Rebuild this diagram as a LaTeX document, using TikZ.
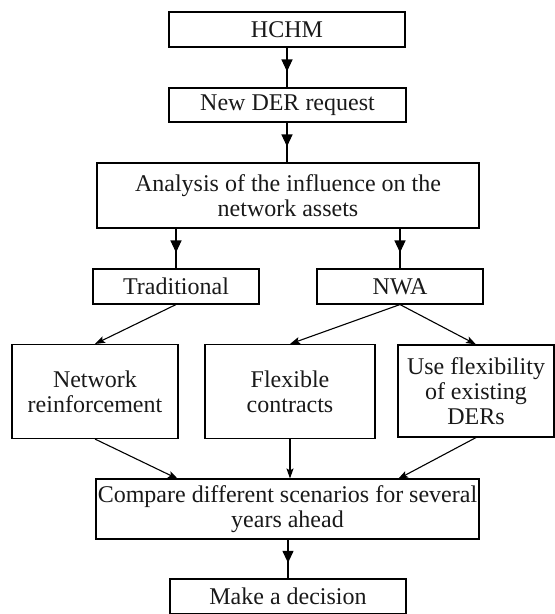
\documentclass[tikz,border=0pt]{standalone}
\usepackage{fontspec}
\setmainfont{Liberation Serif}
\usetikzlibrary{arrows.meta,decorations.markings}
\begin{document}
\begin{tikzpicture}[x=1pt,y=-1pt,
  box/.style={draw, line width=1.1pt, inner sep=0pt, align=center, text=black!90,
    font=\fontsize{24}{25}\selectfont},
  midarrow/.style={line width=1.1pt, postaction={decorate},
    decoration={markings, mark=at position 0.6 with {\arrow{Triangle[length=12pt,width=11pt]}}}},
  diag/.style={line width=1.1pt, -{Stealth[length=10pt,width=7pt,inset=2pt]}}]
\useasboundingbox (0,0) rectangle (555,614);
\node[box, minimum width=236pt, minimum height=35pt] (hchm) at (287,29.5) {HCHM};
\node[box, minimum width=237pt, minimum height=34pt] (der) at (287.5,105) {New DER request};
\node[box, minimum width=382pt, minimum height=65pt] (ana) at (288,195.5) {Analysis of the influence on the\\network assets};
\node[box, minimum width=166pt, minimum height=35pt] (trad) at (176,286.5) {Traditional};
\node[box, minimum width=166pt, minimum height=35pt] (nwa) at (400,286.5) {NWA};
\node[box, minimum width=166pt, minimum height=94pt] (net) at (95,391.5) {Network\\reinforcement};
\node[box, minimum width=170pt, minimum height=94pt] (flex) at (290,391.5) {Flexible\\contracts};
\node[box, minimum width=156pt, minimum height=92pt] (use) at (476,391) {Use flexibility\\of existing\\DERs};
\node[box, minimum width=383pt, minimum height=60pt] (cmp) at (287.5,509) {Compare different scenarios for several\\years ahead};
\node[box, minimum width=236pt, minimum height=35pt] (dec) at (288,596.5) {Make a decision};

\coordinate (cl) at (178,479);
\coordinate (cr) at (398,479);

\draw[midarrow] (hchm.south) -- (hchm.south |- der.north);
\draw[midarrow] (hchm.south |- der.south) -- (hchm.south |- ana.north);
\draw[midarrow] (trad.north |- ana.south) -- (trad.north);
\draw[midarrow] (nwa.north |- ana.south) -- (nwa.north);
\draw[diag] (trad.south) -- (net.north);
\draw[diag] (nwa.south) -- (flex.north);
\draw[diag] (nwa.south) -- (use.north);
\draw[diag] (net.south) -- (cl);
\draw[diag] (flex.south) -- (flex.south |- cmp.north);
\draw[diag] (use.south) -- (cr);
\draw[midarrow] (cmp.south -| dec.north) -- (dec.north);
\end{tikzpicture}
\end{document}
